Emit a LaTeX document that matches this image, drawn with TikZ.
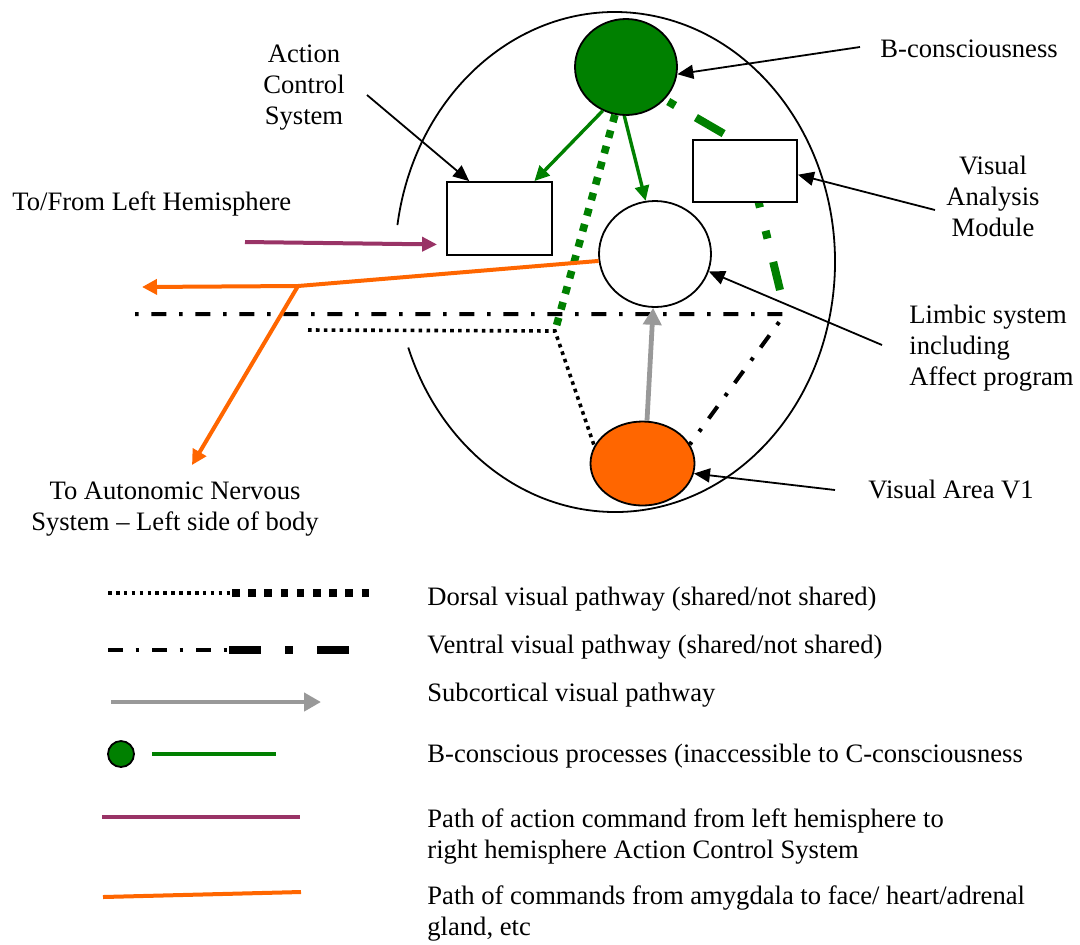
\documentclass[tikz,border=0pt]{standalone}
\usepackage{fontspec}
\setmainfont{Liberation Serif}
\usetikzlibrary{arrows.meta,shapes.geometric,backgrounds}

\definecolor{bgreen}{RGB}{0,128,0}
\definecolor{amber}{RGB}{255,102,0}
\definecolor{plum}{RGB}{153,51,102}
\definecolor{subgray}{RGB}{153,153,153}

\begin{document}
\begin{tikzpicture}[x=0.5pt, y=-0.5pt,
  every node/.style={font=\fontsize{13.3}{15.5}\selectfont, inner sep=0pt},
  outline/.style={draw, line width=0.9pt},
  pointer/.style={line width=0.9pt, -{Triangle[length=8pt,width=7pt]}},
  bproc/.style={bgreen, line width=1.7pt, -{Triangle[length=7.5pt,width=7pt]}},
  subcort/.style={subgray, line width=2.4pt, -{Triangle[length=8.5pt,width=9pt]}},
  amygdala/.style={amber, line width=2pt, -{Triangle[length=7.5pt,width=7.5pt]}},
  lefthemi/.style={plum, line width=2pt, -{Triangle[length=7.5pt,width=7pt]}},
  thindots/.style={line width=1.8pt, dash pattern=on 1.8pt off 2.15pt},
  thickdots/.style={line width=3.8pt, dash pattern=on 3.8pt off 4.3pt},
  thindashdot/.style={line width=2pt, dash pattern=on 7.5pt off 6.3pt on 1.8pt off 6.4pt},
  thickdashdot/.style={line width=4pt, dash pattern=on 16pt off 12pt on 4pt off 12pt}]

\useasboundingbox (0,0) rectangle (1080,944);

\coordinate (head) at (615,262);
\draw [line width=0.9pt] ([shift={(188.5:220 and 250)}]head) arc [start angle=188.5, end angle=520, x radius=220, y radius=250];

\node (bcon) [ellipse, outline, fill=bgreen, minimum width=51pt, minimum height=48pt] at (626,67) {};
\node (acs) [rectangle, outline, fill=white, minimum width=52.5pt, minimum height=36.5pt] at (499.5,218.5) {};
\node (vam) [rectangle, outline, fill=white, minimum width=52pt, minimum height=31pt] at (745,171) {};
\node (limbic) [ellipse, outline, fill=white, minimum width=56pt, minimum height=53pt] at (655,254) {};
\node (vone) [ellipse, outline, fill=amber, minimum width=52pt, minimum height=42pt] at (642.5,463.5) {};

\coordinate (dstart) at (308,330);
\coordinate (dj) at (555,331);
\coordinate (vstart) at (135,314);
\coordinate (vj) at (785,314);
\coordinate (gk) at (745,146);
\coordinate (gend) at (780,290);
\coordinate (oj) at (298,286);
\coordinate (oleft) at (142,287);
\coordinate (odown) at (192,465);
\coordinate (pstart) at (245,242);
\coordinate (acp) at (367,95);
\coordinate (bcp) at (860,47);
\coordinate (vap) at (935,210);
\coordinate (lsp) at (882,345);
\coordinate (v1p) at (835,490);

\begin{pgfonlayer}{background}
\draw [bgreen, thickdashdot, dash phase=26pt] (bcon.320) -- (gk) -- (gend);
\end{pgfonlayer}
\draw [bgreen, thickdots] (bcon.257) -- (dj);
\draw [thindots] (dstart) -- (dj) -- (vone.160);
\draw [thindashdot, dash phase=13.8pt] (vstart) -- (vj) -- (vone.22);
\draw [bproc] (bcon.242) -- (acs.47);
\draw [bproc] (bcon.268) -- (limbic.100);
\draw [subcort] (vone.84) -- (limbic.268);
\draw [amygdala] (limbic.187) -- (oj) -- (oleft);
\draw [amygdala] (oj) -- (odown);
\draw [lefthemi, shorten >=4.5pt] (pstart) -- (acs.206);

\draw [pointer] (acp) -- (acs.129);
\draw [pointer] (bcp) -- (bcon.-8);
\draw [pointer] (vap) -- (vam.-4);
\draw [pointer] (lsp) -- (limbic.-18);
\draw [pointer] (v1p) -- (vone.-11);

\node (acslbl) [align=center, anchor=north] at (304,44) {Action\\Control\\System};
\node (bconlbl) [anchor=base west] at (880,57) {B-consciousness};
\node (vamlbl) [align=center, anchor=north] at (993,156) {Visual\\Analysis\\Module};
\node (hemilbl) [anchor=base west] at (12,210) {To/From Left Hemisphere};
\node (limbiclbl) [align=left, anchor=north west] at (909,305) {Limbic system\\including\\Affect program};
\node (anslbl) [align=center, anchor=north] at (175,481) {To Autonomic Nervous\\System -- Left side of body};
\node (vonelbl) [anchor=base west] at (868,498) {Visual Area V1};

\draw [thindots] (108,593) -- (232,593);
\draw [thickdots] (232,593) -- (369,593);
\draw [thindashdot] (108,650) -- (228,650);
\draw [thickdashdot] (229,650) -- (349,650);
\draw [subcort] (111,702) -- (321,702);
\draw [outline, fill=bgreen] (121,754) circle [radius=13];
\draw [bgreen, line width=1.7pt] (152,754) -- (276,754);
\draw [plum, line width=2pt] (102,817) -- (300,817);
\draw [amber, line width=2pt] (103,897) -- (301,892);

\node (dorsallbl) [anchor=base west] at (427,605) {Dorsal visual pathway (shared/not shared)};
\node (ventrallbl) [anchor=base west] at (427,653) {Ventral visual pathway (shared/not shared)};
\node (subcortlbl) [anchor=base west] at (427,701) {Subcortical visual pathway};
\node (bproclbl) [anchor=base west] at (427,762) {B-conscious processes (inaccessible to C-consciousness};
\node (hemipathlbl) [align=left, anchor=north west] at (427,808) {Path of action command from left hemisphere to\\right hemisphere Action Control System};
\node (amylbl) [align=left, anchor=north west] at (427,885) {Path of commands from amygdala to face/ heart/adrenal\\gland, etc};

\end{tikzpicture}
\end{document}
